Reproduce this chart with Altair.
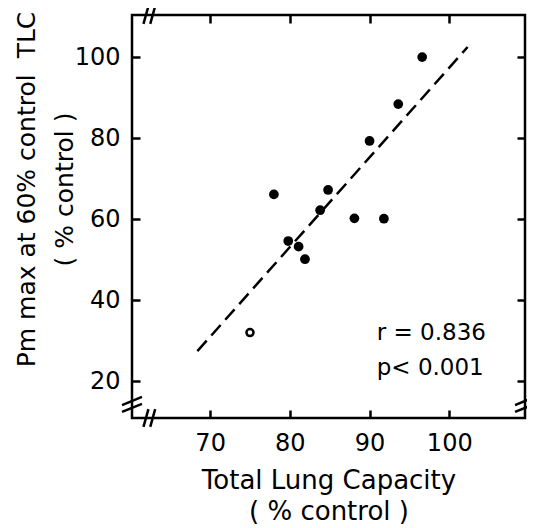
import altair as alt
import pandas as pd

# ---- data ----
tlc = [96.6, 93.6, 90.0, 78.0, 84.8, 83.8, 88.1, 91.8, 79.8, 81.1, 81.9]
pm = [100.0, 88.4, 79.3, 66.1, 67.2, 62.2, 60.2, 60.1, 54.6, 53.2, 50.1]
open_tlc = [75.0]
open_pm = [32.0]
fit_tlc = [68.4, 102.3]
fit_pm = [27.4, 102.5]
stats_text = ["r = 0.836", "p< 0.001"]
stats_tlc = [90.9, 90.9]
stats_pm = [31.9, 23.2]
x_ticks = [70, 80, 90, 100]
y_ticks = [20, 40, 60, 80, 100]
x_domain = [60.2, 109.5]
y_domain = [10.9, 110.4]

# axis-break slashes (data units)
brk_x1 = [61.64, 62.49, 61.64, 62.49, 58.95, 58.95, 108.25, 108.25]
brk_x2 = [62.26, 63.11, 62.26, 63.11, 61.45, 61.45, 110.75, 110.75]
brk_y1 = [108.2, 108.2, 8.7, 8.7, 14.1, 12.4, 14.1, 12.4]
brk_y2 = [112.6, 112.6, 13.1, 13.1, 16.1, 14.4, 16.1, 14.4]

FONT = "DejaVu Sans"

df_pts = pd.DataFrame({"tlc": tlc, "pm": pm})
df_open = pd.DataFrame({"tlc": open_tlc, "pm": open_pm})
df_fit = pd.DataFrame({"tlc": fit_tlc, "pm": fit_pm})
df_txt = pd.DataFrame({"tlc": stats_tlc, "pm": stats_pm, "t": stats_text})
df_brk = pd.DataFrame({"x1": brk_x1, "x2": brk_x2, "y1": brk_y1, "y2": brk_y2})

xs = alt.Scale(domain=x_domain, nice=False, zero=False)
ys = alt.Scale(domain=y_domain, nice=False, zero=False)

bottom_axis = alt.Axis(orient="bottom", values=x_ticks, offset=-8, tickSize=8, tickWidth=2.5,
                       tickColor="black", domain=False, grid=False,
                       labelFont=FONT, labelFontSize=24, labelColor="black", labelPadding=13,
                       title=["Total Lung Capacity", "( % control )"],
                       titleFont=FONT, titleFontSize=26, titleFontWeight="normal",
                       titleColor="black", titleLineHeight=31, titlePadding=12)
left_axis = alt.Axis(orient="left", values=y_ticks, offset=-8, tickSize=8, tickWidth=2.5,
                     tickColor="black", domain=False, grid=False,
                     labelFont=FONT, labelFontSize=24, labelColor="black", labelPadding=12,
                     title=["Pm max at 60% control\u00a0 TLC", "( % control )"],
                     titleFont=FONT, titleFontSize=25, titleFontWeight="normal",
                     titleColor="black", titleLineHeight=38, titlePadding=-3, titleY=174)
top_axis = alt.Axis(orient="top", values=x_ticks, offset=-8, tickSize=8, tickWidth=2.5,
                    tickColor="black", domain=False, grid=False, labels=False, title=None)
right_axis = alt.Axis(orient="right", values=y_ticks, offset=-8, tickSize=8, tickWidth=2.5,
                      tickColor="black", domain=False, grid=False, labels=False, title=None)

pts = alt.Chart(df_pts).mark_circle(size=95, color="black", opacity=1).encode(
    x=alt.X("tlc:Q", scale=xs, axis=bottom_axis),
    y=alt.Y("pm:Q", scale=ys, axis=left_axis),
)

fit = alt.Chart(df_fit).mark_line(color="black", strokeWidth=2.5, strokeDash=[14, 7]).encode(
    x=alt.X("tlc:Q", scale=xs, axis=top_axis),
    y=alt.Y("pm:Q", scale=ys, axis=right_axis),
)

opn = alt.Chart(df_open).mark_point(shape="circle", size=50, color="black", filled=False,
                                    strokeWidth=2.5, opacity=1).encode(
    x=alt.X("tlc:Q", scale=xs, axis=None),
    y=alt.Y("pm:Q", scale=ys, axis=None),
)

txt = alt.Chart(df_txt).mark_text(align="left", baseline="middle", font=FONT, fontSize=23,
                                  color="black").encode(
    x=alt.X("tlc:Q", scale=xs, axis=None),
    y=alt.Y("pm:Q", scale=ys, axis=None),
    text="t:N",
)

brk = alt.Chart(df_brk).mark_rule(color="black", strokeWidth=2.5).encode(
    x=alt.X("x1:Q", scale=xs, axis=None),
    x2="x2:Q",
    y=alt.Y("y1:Q", scale=ys, axis=None),
    y2="y2:Q",
)

chart = alt.layer(pts, fit, opn, txt, brk).resolve_axis(
    x="independent", y="independent"
).properties(
    width=393, height=403,
    autosize=alt.AutoSizeParams(type="none"),
    padding={"left": 124, "top": 7, "right": 2, "bottom": 112},
    background="white",
).configure_view(stroke="black", strokeWidth=2.5)

chart.save("out.html", embed_options={"renderer": "svg", "actions": False})
